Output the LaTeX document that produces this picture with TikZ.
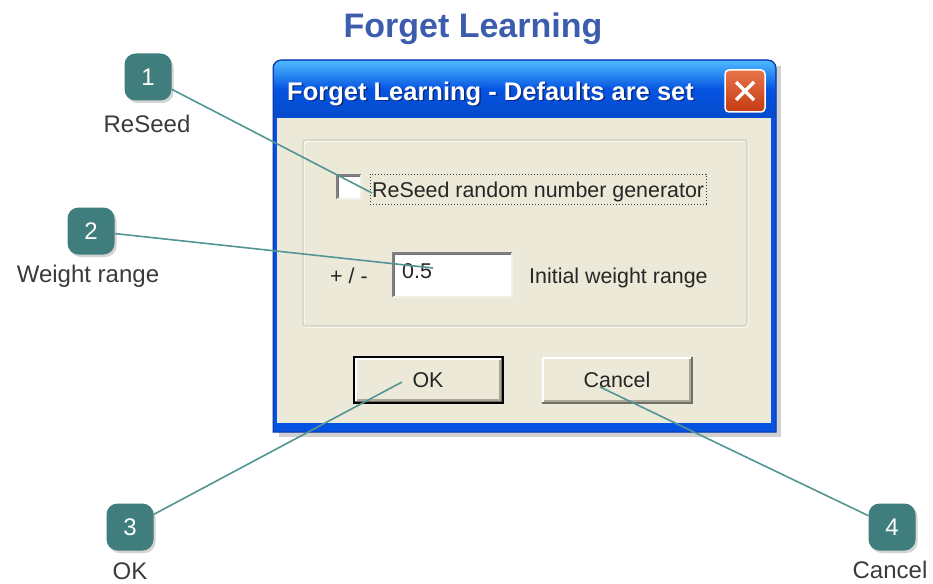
\documentclass[tikz,border=0pt]{standalone}
\usepackage{fontspec}
\setmainfont{Liberation Sans}
\usetikzlibrary{shadows}

\definecolor{titleblue}{HTML}{3C5CAD}
\definecolor{calloutteal}{HTML}{3F7E7C}
\definecolor{leadteal}{HTML}{539593}
\definecolor{xpbeige}{HTML}{ECE9D8}
\definecolor{xpframe}{HTML}{0553E1}
\definecolor{xpdark}{HTML}{0A2FA0}
\definecolor{captionshadow}{HTML}{0A2A80}
\definecolor{labelgray}{HTML}{3A3A3A}
\definecolor{etchgray}{HTML}{D0D0BF}
\definecolor{btnshade}{HTML}{ACA899}
\definecolor{btndark}{HTML}{716F64}
\definecolor{closetop}{HTML}{E8744A}
\definecolor{closebottom}{HTML}{C43A12}

% classic raised button: x1 y1 x2 y2
\newcommand\raisedpanel[4]{%
  \fill[xpbeige] (#1,#2) rectangle (#3,#4);
  \draw[white, line width=1.5] (#1+1,#4-1) -- (#1+1,#2+1) -- (#3-1,#2+1);
  \draw[btndark, line width=1.5] (#1,#4) -- (#3,#4) -- (#3,#2);
  \draw[btnshade, line width=1.5] (#1+2,#4-2) -- (#3-2,#4-2) -- (#3-2,#2+2);
}
% sunken field: x1 y1 x2 y2
\newcommand\sunkenpanel[4]{%
  \fill[white] (#1,#2) rectangle (#3,#4);
  \draw[gray, line width=1.5] (#1,#4) -- (#1,#2) -- (#3,#2);
  \draw[black!55, line width=1.2] (#1+1.5,#4-1.5) -- (#1+1.5,#2+1.5) -- (#3-1.5,#2+1.5);
  \draw[xpbeige!70!white, line width=1.5] (#1,#4) -- (#3,#4) -- (#3,#2);
}

\tikzset{
  badge/.style={rounded corners=11pt, fill=calloutteal, minimum width=47pt,
    minimum height=47pt, inner sep=0pt, text=white,
    font=\fontsize{24}{24}\selectfont,
    drop shadow={opacity=0.35, shadow xshift=2pt, shadow yshift=-2.5pt}},
  calloutlabel/.style={anchor=base, inner sep=0pt, text=labelgray, font=\fontsize{24}{24}\selectfont},
  lead/.style={leadteal, line width=1.6pt},
  dlgtext/.style={anchor=base west, inner sep=0pt, text=black!85, font=\fontsize{21.4}{21.4}\selectfont},
  btntext/.style={anchor=base, inner sep=0pt, text=black!85, font=\fontsize{21.4}{21.4}\selectfont},
}

\begin{document}
\begin{tikzpicture}[x=1pt,y=-1pt]
\useasboundingbox (0,0) rectangle (933,583);

% heading
\node[anchor=base, text=titleblue, font=\fontsize{34}{34}\selectfont\bfseries] (heading) at (473,38) {Forget Learning};

% window shadow
\fill[black, opacity=0.18] (279,432) rectangle (781,437);
\fill[black, opacity=0.18] (776,66) rectangle (781,432);

% window frame with rounded top corners
\fill[xpframe, draw=xpdark, line width=1]
  (273,432) -- (273,100) [rounded corners=8] -- (273,60) -- (776,60) -- (776,100) [sharp corners] -- (776,432) -- cycle;
% caption bar
\shade[top color=blue!40!cyan!70!white, bottom color=xpframe!90!black, middle color=xpframe]
  (274,118) -- (274,100) [rounded corners=7] -- (274,61) -- (775,61) -- (775,100) [sharp corners] -- (775,118) -- cycle;
% client area
\fill[xpbeige] (277,118) rectangle (771,423);

% caption text
\node[anchor=base west, inner sep=0pt, text=captionshadow, font=\fontsize{25.5}{25.5}\selectfont\bfseries] (captionshade) at (288.5,101.5) {Forget Learning - Defaults are set};
\node[anchor=base west, inner sep=0pt, text=white, font=\fontsize{25.5}{25.5}\selectfont\bfseries] (caption) at (287,100) {Forget Learning - Defaults are set};

% close button
\node[draw=white, line width=1.5pt, top color=closetop, bottom color=closebottom,
      rounded corners=4pt, minimum width=40pt, minimum height=42pt] (closebtn) at (745,91) {};
\draw[white, line width=3.5pt] ([shift={(-9,-9)}]closebtn.center) -- ([shift={(9,9)}]closebtn.center);
\draw[white, line width=3.5pt] ([shift={(-9,9)}]closebtn.center) -- ([shift={(9,-9)}]closebtn.center);

% group box
\draw[white, line width=1, rounded corners=3] (304,141) rectangle (748,327);
\draw[etchgray, line width=1.2, rounded corners=3] (303,140) rectangle (747,326);

% check box and its label
\sunkenpanel{337}{175}{361}{199}
\draw[black!75, dotted, line width=1] (370,174) rectangle (706,204);
\node[dlgtext] (reseedlabel) at (372,197) {ReSeed random number generator};

% weight range field
\node[dlgtext] (plusminus) at (330,283) {+ / -};
\sunkenpanel{393}{253}{512}{297}
\node[dlgtext] (weightvalue) at (402,278) {0.5};
\node[dlgtext] (weightlabel) at (529,283) {Initial weight range};

% buttons
\raisedpanel{355}{358}{502}{402}
\draw[black, line width=1.5] (354,357) rectangle (503,403);
\node[btntext] (okbtn) at (428,387) {OK};
\raisedpanel{542}{357}{692}{403}
\node[btntext] (cancelbtn) at (617,387) {Cancel};

% callout targets
\coordinate (t1) at (372,193);
\coordinate (t2) at (433,268);
\coordinate (t3) at (402,382);
\coordinate (t4) at (600,387);

% callout badges
\node[badge] (b1) at (148,77) {1};
\node[badge] (b2) at (91,231) {2};
\node[badge] (b3) at (130,527) {3};
\node[badge] (b4) at (892,527) {4};

% callout captions
\node[calloutlabel] (l1) at (147,132) {ReSeed};
\node[calloutlabel] (l2) at (88,282) {Weight range};
\node[calloutlabel] (l3) at (130,579) {OK};
\node[calloutlabel] (l4) at (890,578) {Cancel};

% leader lines
\draw[lead] (b1) -- (t1);
\draw[lead] (b2) -- (t2);
\draw[lead] (b3) -- (t3);
\draw[lead] (b4) -- (t4);
\end{tikzpicture}
\end{document}
